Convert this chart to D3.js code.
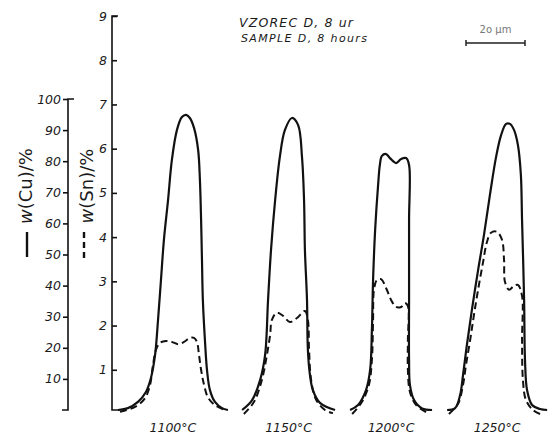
<!DOCTYPE html>
<html>
<head>
<meta charset="utf-8">
<script src="https://cdn.jsdelivr.net/npm/d3@7"></script>
<style>
  body { margin: 0; background: #fff; }
  svg { display: block; }
  text { font-family: "DejaVu Sans", sans-serif; fill: #1a1a1a; }
</style>
</head>
<body>
<div id="chart"></div>
<script>
const width = 551;
const height = 436;

// temperatures of the four profiles
const temperatures = ["1100°C", "1150°C", "1200°C", "1250°C"];

// [distance (μm), w(Cu) %]  -- solid lines
const cu1100 = [[2,0],[5.4,0.6],[8.8,2.6],[11.5,5.8],[13.2,10.3],[14.6,17.7],[15.6,28.9],[16.6,41.8],[17.6,54.7],[19,67.5],[20.3,80.4],[22,90],[23.7,94.2],[25.1,94.9],[26.4,93.9],[27.8,90.7],[29.2,83.6],[29.8,74],[30.2,61.1],[30.5,48.2],[30.8,35.4],[31.5,22.5],[32.2,12.9],[33.2,6.4],[34.9,2.6],[37.3,0.6],[39.3,0]];
const cu1150 = [[44.1,0],[47.5,3.2],[50.2,9.6],[51.9,17.7],[52.9,35.4],[53.9,51.4],[55.3,67.5],[56.9,81.4],[58.6,90],[61,93.9],[63.1,91.6],[64.4,81.4],[65.1,67.5],[65.4,51.4],[66.1,35.4],[66.4,19.3],[67.1,11.3],[68.1,6.4],[70.5,2.3],[75.6,0]];
const cu1200 = [[80.7,0],[83.4,1.6],[86.1,6.4],[87.5,12.9],[88.1,25.7],[88.5,41.8],[89.2,57.9],[90.2,72.3],[90.8,78.8],[91.5,81.7],[92.9,82.3],[94.2,81],[96.3,79.4],[98,80.7],[99.7,81],[100.7,78.8],[100.7,61.1],[100.7,35.4],[100.7,16.1],[101,8],[102.4,3.2],[105.1,0.5],[108.5,0]];
const cu1250 = [[113.6,0],[116.3,0.6],[118,4.8],[119,11.3],[120.3,20.9],[122,32.2],[124.1,45],[126.1,56.3],[128.1,69.1],[130.2,81.4],[131.9,88.4],[133.6,92],[134.9,92],[136.3,90],[137.6,85.2],[138.6,75.6],[139,61.1],[139.7,35.4],[140,16.1],[140.7,6.4],[142.4,1.6],[145.1,0.3],[147.5,0]];

// [distance (μm), w(Sn) %]  -- dashed lines
const sn1100 = [[2.7,0.05],[7.8,0.16],[11.2,0.36],[12.9,0.66],[13.9,1.11],[14.9,1.45],[16.3,1.61],[18.3,1.65],[20.3,1.63],[22.4,1.58],[24.4,1.63],[26.4,1.72],[27.8,1.72],[28.8,1.63],[29.5,1.33],[30.2,1],[31.2,0.66],[32.5,0.38],[34.9,0.2],[38.3,0.09]];
const sn1150 = [[44.7,0],[48.1,0.27],[50.8,0.77],[52.5,1.33],[53.6,1.79],[54.2,2.13],[55.9,2.29],[58,2.22],[60.3,2.08],[62.7,2.17],[65.4,2.33],[66.4,2.13],[66.8,1.45],[67.5,0.77],[69.2,0.32],[72.2,0.09],[74.9,0.02]];
const sn1200 = [[81.4,0],[84.7,0.27],[87.1,0.66],[88.1,1.22],[88.5,2.13],[88.8,2.81],[89.8,3.03],[91.2,3.05],[92.9,2.85],[94.6,2.58],[96.3,2.42],[98,2.42],[99.3,2.51],[100.3,2.44],[100.3,1.67],[100.3,1],[101,0.5],[103.1,0.2],[107.1,0.02]];
const sn1250 = [[114.2,0],[117.3,0.23],[119,0.66],[120,1.11],[121.4,1.67],[122.7,2.24],[124.1,2.81],[125.8,3.44],[127.1,3.89],[128.5,4.1],[130.5,4.12],[132.2,3.94],[132.9,3.48],[133.2,2.99],[134.6,2.81],[136.3,2.9],[137.6,2.92],[139,2.67],[139,1.67],[139.3,0.77],[140.3,0.32],[142.7,0.09],[145.1,0]];

const cuProfiles = [cu1100, cu1150, cu1200, cu1250];
const snProfiles = [sn1100, sn1150, sn1200, sn1250];

const cuTicks = [10, 20, 30, 40, 50, 60, 70, 80, 90, 100];
const snTicks = [1, 2, 3, 4, 5, 6, 7, 8, 9];

const svg = d3.select("#chart")
  .append("svg")
  .attr("width", width)
  .attr("height", height);

// 20 μm = 59 px in the scan
const x = d3.scaleLinear().domain([0, 150]).range([112, 112 + 150 * 2.95]);
const yCu = d3.scaleLinear().domain([0, 100]).range([410, 99]);
const ySn = d3.scaleLinear().domain([0, 9]).range([414, 16]);

const cuAxisX = 68;
const snAxisX = x(0);

// Cu axis (left one)
const cuAxis = svg.append("g")
  .attr("transform", `translate(${cuAxisX},0)`)
  .call(d3.axisLeft(yCu).tickValues(cuTicks).tickSize(5).tickPadding(2).tickSizeOuter(0));
cuAxis.select(".domain").remove();
cuAxis.append("path")
  .attr("d", `M-6,${yCu(0)}H0V${yCu(100)}H6`)
  .attr("fill", "none").attr("stroke", "#111").attr("stroke-width", 1.6);

// Sn axis (ticks to the right, labels left)
const snAxis = svg.append("g")
  .attr("transform", `translate(${snAxisX},0)`)
  .call(d3.axisLeft(ySn).tickValues(snTicks).tickSize(-5).tickPadding(5).tickSizeOuter(0));
snAxis.select(".domain").remove();
snAxis.append("path")
  .attr("d", `M7,${yCu(0)}H0V${ySn(9)}H6`)
  .attr("fill", "none").attr("stroke", "#111").attr("stroke-width", 1.6);

svg.selectAll(".tick line").attr("stroke", "#111").attr("stroke-width", 1.6);
svg.selectAll(".tick text")
  .attr("font-size", 12.5)
  .attr("font-style", "italic")
  .attr("fill", "#1a1a1a")
  .attr("font-family", "DejaVu Sans, sans-serif");

// profiles
const cuLine = d3.line()
  .x(d => x(d[0]))
  .y(d => yCu(d[1]))
  .curve(d3.curveCatmullRom.alpha(0.5));

const snLine = d3.line()
  .x(d => x(d[0]))
  .y(d => ySn(d[1]))
  .curve(d3.curveCatmullRom.alpha(0.5));

svg.selectAll(".cu")
  .data(cuProfiles)
  .enter()
  .append("path")
  .attr("class", "cu")
  .attr("d", cuLine)
  .attr("fill", "none")
  .attr("stroke", "#111")
  .attr("stroke-width", 2.2);

svg.selectAll(".sn")
  .data(snProfiles)
  .enter()
  .append("path")
  .attr("class", "sn")
  .attr("d", snLine)
  .attr("fill", "none")
  .attr("stroke", "#111")
  .attr("stroke-width", 2)
  .attr("stroke-dasharray", "7,4");

// temperature labels under each profile
svg.selectAll(".temp")
  .data(temperatures)
  .enter()
  .append("text")
  .attr("class", "temp")
  .attr("x", (d, i) => {
    const ext = d3.extent(cuProfiles[i], p => p[0]);
    return x((ext[0] + ext[1]) / 2);
  })
  .attr("y", 432)
  .attr("text-anchor", "middle")
  .attr("font-size", 12.5)
  .attr("font-style", "italic")
  .text(d => d);

// axis titles, rotated
function axisTitle(cx, label) {
  const t = svg.append("text")
    .attr("transform", `translate(${cx},186) rotate(-90)`)
    .attr("text-anchor", "middle")
    .attr("font-size", 18);
  t.append("tspan").attr("font-style", "italic").text("w");
  t.append("tspan").text(label);
}
axisTitle(32, "(Cu)/%");
axisTitle(93, "(Sn)/%");

// legend marks under the titles
svg.append("line")
  .attr("x1", 27).attr("x2", 27)
  .attr("y1", 232).attr("y2", 257)
  .attr("stroke", "#111").attr("stroke-width", 2.4);
svg.append("line")
  .attr("x1", 84).attr("x2", 84)
  .attr("y1", 232).attr("y2", 258)
  .attr("stroke", "#111").attr("stroke-width", 2.4)
  .attr("stroke-dasharray", "6,4");

// heading
svg.append("text")
  .attr("x", 239).attr("y", 27)
  .attr("font-size", 12.5)
  .attr("font-style", "italic")
  .attr("textLength", 114)
  .attr("lengthAdjust", "spacing")
  .text("VZOREC  D, 8 ur");
svg.append("text")
  .attr("x", 241).attr("y", 42)
  .attr("font-size", 11)
  .attr("font-style", "italic")
  .attr("textLength", 126)
  .attr("lengthAdjust", "spacing")
  .text("SAMPLE  D, 8 hours");

// scale bar, 20 μm
const barStart = 466;
const barEnd = barStart + (x(20) - x(0));
svg.append("path")
  .attr("d", `M${barStart},40V46M${barStart},43H${barEnd}M${barEnd},40V46`)
  .attr("fill", "none").attr("stroke", "#222").attr("stroke-width", 1.5);
svg.append("text")
  .attr("x", (barStart + barEnd) / 2).attr("y", 33)
  .attr("text-anchor", "middle")
  .attr("font-size", 10)
  .style("fill", "#777")
  .text("2o μm");
</script>
</body>
</html>
